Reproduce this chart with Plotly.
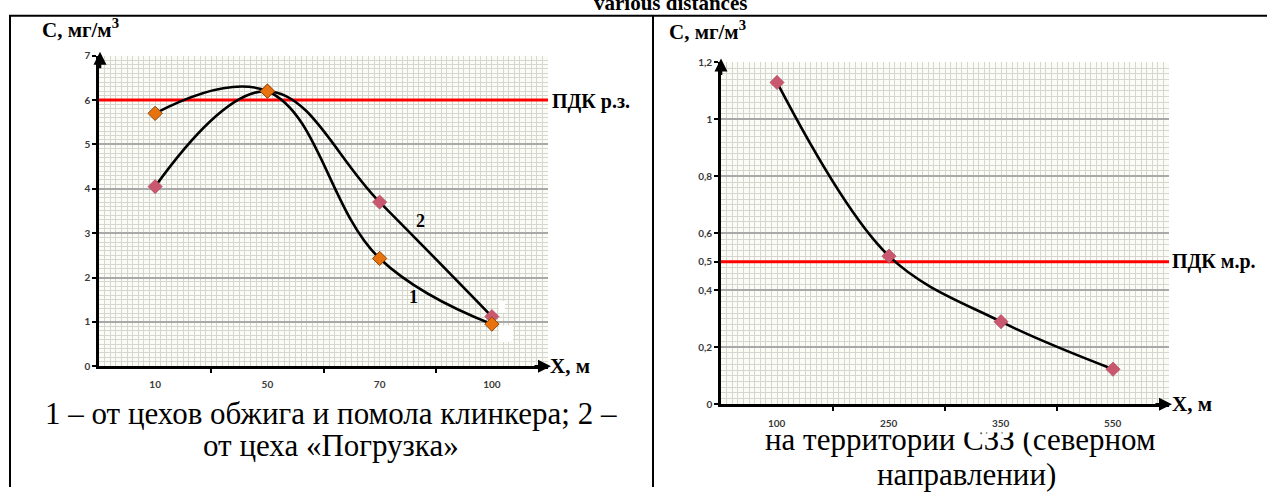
import plotly.graph_objects as go

# ---- data ----
left_categories = ["10", "50", "70", "100"]
left_series_1 = [5.7, 6.2, 2.43, 0.95]      # curve 1 (orange markers)
left_series_2 = [4.05, 6.2, 3.7, 1.12]      # curve 2 (pink markers)
left_limit = 6.0                            # ПДК р.з.
left_yticks = [0, 1, 2, 3, 4, 5, 6, 7]

right_categories = ["100", "250", "350", "550"]
right_series = [1.13, 0.52, 0.29, 0.123]
right_limit = 0.5                           # ПДК м.р.
right_yticks = [0, 0.2, 0.4, 0.5, 0.6, 0.8, 1.0, 1.2]
right_yticklabels = ["0", "0,2", "0,4", "0,5", "0,6", "0,8", "1", "1,2"]

W, H = 1267, 493


def px(x):
    return x / W


def py(y):
    return 1 - y / H


SERIF = "Liberation Serif, Times New Roman, serif"
TICKFONT = dict(family="Lato, Arial, sans-serif", size=10, color="#3a3a3a", weight="bold")
ORANGE = "#E8730E"
PINK = "#C9576E"
MINOR = "#D6D6D0"
MAJOR = "#A9A9A9"
BG = "#FCFCF7"

fig = go.Figure()

lx = list(range(len(left_categories)))
rx = list(range(len(right_categories)))


def limit_line(level, xa, ya):
    # horizontal limit across the whole plot area, slightly past the y axis
    fig.add_trace(go.Scatter(x=[-0.53, 3.5], y=[level, level], mode="lines",
                             line=dict(color="#FF0000", width=3), cliponaxis=False,
                             hoverinfo="skip", xaxis=xa, yaxis=ya, showlegend=False))


def curve(xs, ys, color, edge, edge_w, xa, ya, smooth=1.0):
    fig.add_trace(go.Scatter(
        x=xs, y=ys, mode="lines+markers",
        line=dict(color="black", width=2.6, shape="spline", smoothing=smooth),
        marker=dict(symbol="diamond", size=11, color=color, line=dict(color=edge, width=edge_w)),
        xaxis=xa, yaxis=ya, showlegend=False))


# left chart: limit on the base axis, curves on the labelled overlay axis
limit_line(left_limit, "x", "y")
curve(lx, left_series_2, PINK, "#A8455A", 0.6, "x3", "y", 1.15)
curve(lx, left_series_1, ORANGE, "#8F4606", 1, "x3", "y", 1.15)

limit_line(right_limit, "x2", "y2")
curve(rx, right_series, PINK, "#A8455A", 0.6, "x2", "y2")

common_x = dict(
    range=[-0.5, 3.5], tickmode="array", tickvals=[0.5, 1.5, 2.5], ticktext=["", "", ""],
    ticks="outside", ticklen=4, tickwidth=2, tickcolor="black",
    showline=True, linecolor="black", linewidth=2.6, showgrid=False, zeroline=False,
    minor=dict(dtick=0.05, tick0=-0.5, showgrid=True, gridcolor=MINOR, gridwidth=1, ticks=""),
    fixedrange=True,
)

fig.update_layout(
    width=W, height=H,
    margin=dict(l=0, r=0, t=0, b=0),
    paper_bgcolor="white", plot_bgcolor=BG,
    xaxis=dict(domain=[px(99), px(548)], anchor="y", **common_x),
    yaxis=dict(domain=[py(369), py(50)], anchor="x", range=[0, 7], tickmode="array",
               tickvals=left_yticks, ticktext=[str(v) for v in left_yticks],
               ticks="outside", ticklen=4, tickwidth=2, tickcolor="black", tickfont=TICKFONT,
               showline=True, linecolor="black", linewidth=2.6, zeroline=False,
               showgrid=True, gridcolor=MAJOR, gridwidth=1.5,
               minor=dict(dtick=0.1, showgrid=True, gridcolor=MINOR, gridwidth=1, ticks=""),
               fixedrange=True),
    xaxis3=dict(overlaying="x", anchor="y", side="bottom", range=[-0.5, 3.5], tickmode="array",
                tickvals=lx, ticktext=left_categories, ticks="", showline=False, showgrid=False,
                zeroline=False, tickfont=TICKFONT, ticklabelstandoff=11, fixedrange=True),
    xaxis2=dict(domain=[px(721), px(1169)], anchor="y2", **common_x),
    yaxis2=dict(domain=[py(408), py(57)], anchor="x2", range=[0, 1.2], tickmode="array",
                tickvals=right_yticks, ticktext=right_yticklabels,
                ticks="outside", ticklen=4, tickwidth=2, tickcolor="black", tickfont=TICKFONT,
                showline=True, linecolor="black", linewidth=2.6, zeroline=False,
                showgrid=True, gridcolor=MAJOR, gridwidth=1.5,
                minor=dict(dtick=0.02, showgrid=True, gridcolor=MINOR, gridwidth=1, ticks=""),
                fixedrange=True),
)

shapes = []
# table borders
shapes.append(dict(type="line", xref="paper", yref="paper", x0=px(9), x1=1, y0=py(9), y1=py(9),
                   line=dict(color="black", width=2)))
shapes.append(dict(type="line", xref="paper", yref="paper", x0=px(10), x1=px(10), y0=py(9), y1=0,
                   line=dict(color="black", width=2)))
shapes.append(dict(type="line", xref="paper", yref="paper", x0=px(653), x1=px(653), y0=py(9), y1=0,
                   line=dict(color="black", width=2)))
# white patch near the last points of the left chart
shapes.append(dict(type="rect", xref="paper", yref="paper", x0=px(499), x1=px(505), y0=py(314), y1=py(302),
                   line=dict(width=0), fillcolor="white", layer="above"))
shapes.append(dict(type="rect", xref="paper", yref="paper", x0=px(499), x1=px(513), y0=py(344), y1=py(327),
                   line=dict(width=0), fillcolor="white", layer="above"))
fig.update_layout(shapes=shapes)

ann = []


def text(x, y, s, size, bold=False, xanchor="center", yanchor="middle", color="black", family=SERIF):
    ann.append(dict(x=px(x), y=py(y), xref="paper", yref="paper", text=s, showarrow=False,
                    xanchor=xanchor, yanchor=yanchor,
                    font=dict(family=family, size=size, color=color, weight="bold" if bold else "normal")))


def arrow(hx, hy, dx, dy):
    ann.append(dict(x=px(hx), y=py(hy), xref="paper", yref="paper", text="", showarrow=True,
                    ax=dx, ay=dy, arrowhead=2, arrowsize=1, arrowwidth=2.6, arrowcolor="black",
                    standoff=0, startstandoff=0))


# title of the table (cut by the page top)
text(671, 10, "various distances", 21, bold=True, yanchor="bottom")

# left chart labels
text(40, 22, "С, мг/м<sup>3</sup>", 21, bold=True, xanchor="left")
text(550, 97, "ПДК р.з.", 20, bold=True, xanchor="left")
text(548, 369, "X, м", 21, bold=True, xanchor="left")
text(420, 220, "2", 18, bold=True)
text(413, 298, "1", 18, bold=True)
arrow(100, 46, 0, 18)
arrow(551, 369, -18, 0)

# right chart labels
text(667, 24, "С, мг/м<sup>3</sup>", 21, bold=True, xanchor="left")
text(1170, 261, "ПДК м.р.", 20, bold=True, xanchor="left")
text(1170, 408, "X, м", 21, bold=True, xanchor="left")
arrow(721, 53, 0, 18)
arrow(1172, 408, -18, 0)

# captions
text(331, 418, "1 – от цехов обжига и помола клинкера; 2 –", 31)
text(331, 450, "от цеха «Погрузка»", 31)
text(960, 444, "на территории СЗЗ (северном", 31)
text(966, 480, "направлении)", 31)

# white band hiding the top of the right caption's first line
ann.append(dict(x=px(960), y=py(427), xref="paper", yref="paper", text=" ", showarrow=False,
                width=430, height=18, bgcolor="white", borderpad=0, xanchor="center", yanchor="middle"))

# category labels of the right chart, kept above the band
for i, c in enumerate(right_categories):
    ann.append(dict(x=i, y=py(427), xref="x2", yref="paper", text=c, showarrow=False,
                    xanchor="center", yanchor="middle", font=TICKFONT))

fig.update_layout(annotations=ann)

fig.write_html("out.html")
